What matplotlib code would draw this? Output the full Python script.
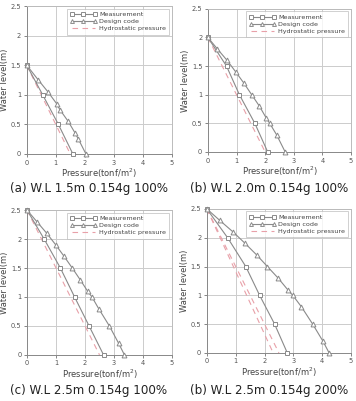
import numpy as np
import matplotlib.pyplot as plt

# (a) W.L 1.5m
a_meas_x = [0.0, 0.55, 1.09, 1.59]
a_meas_y = [1.5, 1.0, 0.5, 0.0]
a_code_x = [0.0, 0.40, 0.73, 1.03, 1.14, 1.43, 1.67, 1.78, 2.04]
a_code_y = [1.5, 1.25, 1.05, 0.85, 0.75, 0.55, 0.35, 0.25, 0.0]
a_hydro_x = [[0.0, 1.5]]
a_hydro_y = [[1.5, 0.0]]

# (b) W.L 2.0m
b_meas_x = [0.0, 0.65, 1.10, 1.64, 2.09]
b_meas_y = [2.0, 1.5, 1.0, 0.5, 0.0]
b_code_x = [0.0, 0.33, 0.67, 0.97, 1.26, 1.53, 1.80, 2.03, 2.16, 2.40, 2.70]
b_code_y = [2.0, 1.8, 1.6, 1.4, 1.2, 1.0, 0.8, 0.6, 0.5, 0.3, 0.0]
b_hydro_x = [[0.0, 2.0]]
b_hydro_y = [[2.0, 0.0]]

# (c) W.L 2.5m
c_meas_x = [0.0, 0.59, 1.15, 1.64, 2.14, 2.64]
c_meas_y = [2.5, 2.0, 1.5, 1.0, 0.5, 0.0]
c_code_x = [0.0, 0.34, 0.68, 0.99, 1.28, 1.56, 1.83, 2.09, 2.24, 2.47, 2.84, 3.16, 3.36]
c_code_y = [2.5, 2.3, 2.1, 1.9, 1.7, 1.5, 1.3, 1.1, 1.0, 0.8, 0.5, 0.2, 0.0]
c_hydro_x = [[0.0, 2.5]]
c_hydro_y = [[2.5, 0.0]]

# (d) W.L 2.5m 200%
d_meas_x = [0.0, 0.72, 1.35, 1.83, 2.35, 2.79]
d_meas_y = [2.5, 2.0, 1.5, 1.0, 0.5, 0.0]
d_code_x = [0.0, 0.45, 0.91, 1.33, 1.73, 2.10, 2.47, 2.80, 2.98, 3.28, 3.67, 4.03, 4.24]
d_code_y = [2.5, 2.3, 2.1, 1.9, 1.7, 1.5, 1.3, 1.1, 1.0, 0.8, 0.5, 0.2, 0.0]
d_hydro_x = [[0.0, 2.3], [0.0, 2.5]]
d_hydro_y = [[2.5, 0.0], [2.5, 0.0]]

titles = ["(a) W.L 1.5m 0.154g 100%", "(b) W.L 2.0m 0.154g 100%",
          "(c) W.L 2.5m 0.154g 100%", "(b) W.L 2.5m 0.154g 200%"]

panels = [
    (a_meas_x, a_meas_y, a_code_x, a_code_y, a_hydro_x, a_hydro_y),
    (b_meas_x, b_meas_y, b_code_x, b_code_y, b_hydro_x, b_hydro_y),
    (c_meas_x, c_meas_y, c_code_x, c_code_y, c_hydro_x, c_hydro_y),
    (d_meas_x, d_meas_y, d_code_x, d_code_y, d_hydro_x, d_hydro_y),
]

# axes boxes in figure fraction: left, bottom, width, height
boxes = [
    [0.075, 0.616, 0.408, 0.369],
    [0.584, 0.621, 0.402, 0.357],
    [0.076, 0.115, 0.407, 0.361],
    [0.581, 0.120, 0.405, 0.359],
]
title_pos = [(0.25, 0.531), (0.755, 0.531), (0.25, 0.027), (0.755, 0.027)]

line_col = "#8a8a8a"
hydro_col = "#e8a0a8"
tick_col = "#555555"

fig = plt.figure(figsize=(3.56, 4.01), dpi=100)

for i, (mx, my, cx, cy, hx, hy) in enumerate(panels):
    ax = fig.add_axes(boxes[i])
    ax.plot(mx, my, color=line_col, lw=0.8, marker="s", ms=3.5,
            mfc="white", mec=line_col, mew=0.7, label="Measurement",
            clip_on=False, zorder=3)
    ax.plot(cx, cy, color=line_col, lw=0.8, marker="^", ms=3.5,
            mfc="white", mec=line_col, mew=0.7, label="Design code",
            clip_on=False, zorder=3)
    for j in range(len(hx)):
        ax.plot(hx[j], hy[j], color=hydro_col, lw=0.8, ls=(0, (5, 4)),
                label="Hydrostatic pressure" if j == 0 else None)
    ax.set_xlim(0, 5)
    ax.set_ylim(0, 2.5)
    ax.set_xticks(np.arange(0, 6, 1))
    ax.set_yticks(np.arange(0, 3.0, 0.5))
    ax.set_yticklabels(["0", "0.5", "1", "1.5", "2", "2.5"])
    ax.grid(True, color="#cccccc", lw=0.7)
    ax.set_axisbelow(True)
    for s in ax.spines.values():
        s.set_color("#bbbbbb")
        s.set_linewidth(0.7)
    ax.spines["left"].set_color("#888888")
    ax.spines["bottom"].set_color("#888888")
    ax.tick_params(labelsize=4.8, colors=tick_col, length=2, width=0.5, pad=2)
    ax.set_xlabel("Pressure(tonf/m$^2$)", fontsize=6, color="#444444", labelpad=0.5)
    ax.set_ylabel("Water level(m)", fontsize=6, color="#444444", labelpad=1)
    leg = ax.legend(loc="upper right", fontsize=4.6, frameon=True, fancybox=False,
                    edgecolor="#bbbbbb", borderpad=0.5, labelspacing=0.25,
                    handlelength=4.2, handletextpad=0.4, borderaxespad=0.4,
                    numpoints=3, markerscale=0.8)
    leg.get_frame().set_linewidth(0.6)
    for t in leg.get_texts():
        t.set_color("#444444")
    fig.text(title_pos[i][0], title_pos[i][1], titles[i], fontsize=8.6,
             ha="center", va="center", color="#222222")

fig.savefig("out.png", dpi=100)
